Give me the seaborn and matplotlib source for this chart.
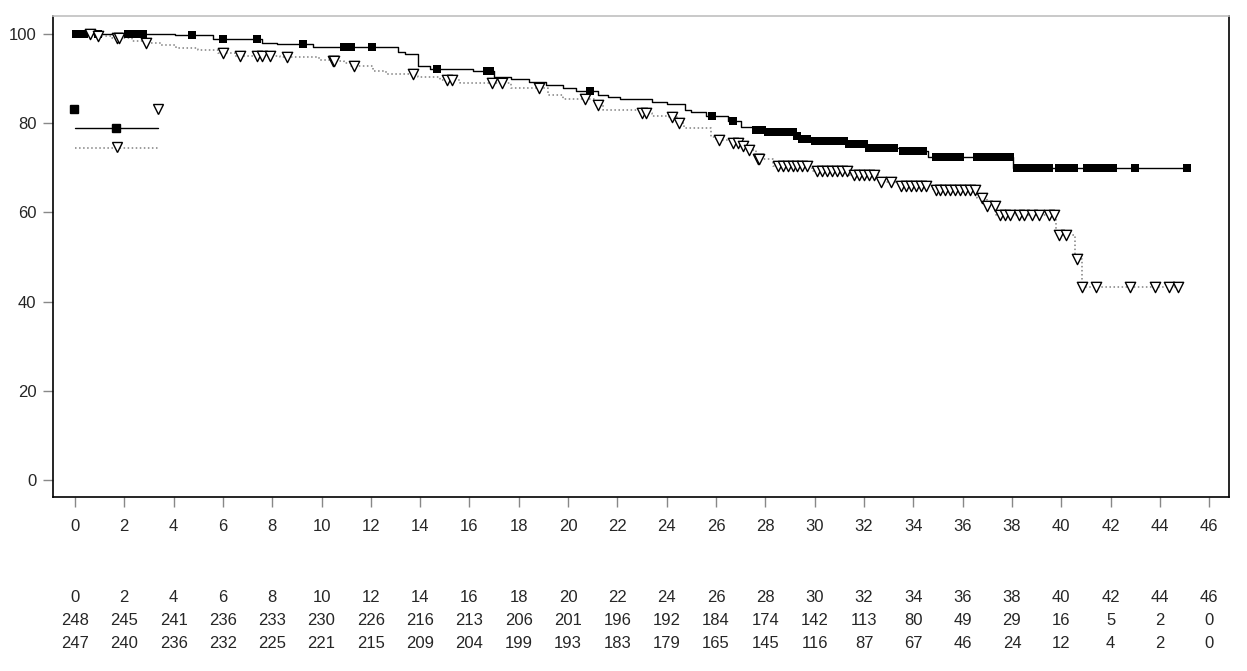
import numpy as np
import pandas as pd
import matplotlib
matplotlib.use("Agg")
import matplotlib.pyplot as plt
import seaborn as sns

# survival curve 1 (solid, squares): step times (months) and survival (%)
t1 = [0, 4.05, 5.6, 7.6, 8.2, 9.65, 13.1, 13.4, 13.9, 14.4, 16.15, 17.0, 17.7, 18.4,
      19.1, 19.8, 20.3, 21.2, 21.6, 22.1, 23.4, 24.0, 24.75, 25.0, 25.6, 26.5, 27.0,
      27.5, 28.0, 29.2, 29.5, 29.9, 31.4, 32.1, 33.5, 34.6, 38.05, 45.1]
s1 = [100, 99.7, 98.9, 97.9, 97.7, 97.1, 96.0, 95.4, 92.9, 92.1, 91.6, 90.3, 89.8, 89.1,
      88.6, 87.8, 87.3, 86.3, 85.8, 85.4, 84.8, 84.2, 83.0, 82.4, 81.5, 80.5, 79.2,
      78.5, 77.9, 77.0, 76.5, 75.9, 75.3, 74.4, 73.8, 72.5, 70.0, 70.0]

# survival curve 2 (dotted, triangles)
t2 = [0, 0.9, 1.5, 2.3, 2.8, 3.5, 4.1, 5.0, 5.8, 6.5, 8.3, 9.9, 10.4, 10.9, 11.2,
      12.1, 12.6, 13.9, 14.8, 15.6, 17.7, 19.2, 19.8, 21.1, 21.4, 22.9, 23.4, 24.1,
      24.4, 24.7, 25.8, 26.0, 26.6, 27.0, 27.3, 27.6, 28.3, 29.9, 31.4, 32.6, 33.4,
      34.8, 36.6, 37.0, 37.35, 39.8, 40.55, 40.85, 44.75]
s2 = [100, 99.6, 99.0, 98.5, 98.0, 97.5, 96.9, 96.3, 95.7, 95.1, 94.7, 94.2, 93.9, 93.5, 92.7,
      91.6, 91.0, 90.4, 89.7, 89.0, 87.9, 86.3, 85.5, 84.0, 83.0, 82.2, 81.7, 81.3,
      80.0, 78.8, 76.8, 76.2, 75.5, 74.8, 74.0, 72.0, 70.4, 69.3, 68.4, 66.9, 65.8,
      64.9, 63.2, 61.5, 59.4, 55.0, 49.6, 43.3, 43.3]

# censoring times
cens1 = [0.05, 0.15, 0.25, 0.35, 0.95, 2.15, 2.3, 2.45, 2.6, 2.75, 4.75, 6.0, 7.4, 9.25,
         10.9, 11.05, 11.2, 12.05, 14.7, 16.7, 16.85, 20.9, 25.85, 26.7, 27.6, 27.85,
         28.1, 28.3, 28.5, 28.7, 28.9, 29.1, 29.3, 29.5, 29.7, 30.0, 30.2, 30.4, 30.6,
         30.8, 31.0, 31.2, 31.4, 31.6, 31.8, 32.0, 32.2, 32.4, 32.6, 32.8, 33.0, 33.2,
         33.6, 33.8, 34.0, 34.2, 34.4, 34.9, 35.1, 35.3, 35.5, 35.7, 35.9, 36.6, 36.8,
         37.0, 37.2, 37.5, 37.7, 37.9, 38.2, 38.4, 38.6, 38.8, 39.0, 39.2, 39.5, 39.9,
         40.1, 40.3, 40.5, 41.05, 41.2, 41.4, 41.6, 41.8, 42.1, 43.0, 45.1]
cens2 = [0.6, 0.93, 1.7, 1.8, 2.9, 6.0, 6.7, 7.4, 7.6, 7.9, 8.6, 10.45, 10.5, 11.3, 13.7,
         15.1, 15.3, 16.9, 17.3, 18.8, 20.7, 21.2, 23.0, 23.15, 24.2, 24.5, 26.1, 26.7,
         26.9, 27.1, 27.35, 27.7, 27.75, 28.5, 28.7, 28.9, 29.1, 29.3, 29.5, 29.7, 30.1,
         30.3, 30.5, 30.7, 30.9, 31.1, 31.3, 31.6, 31.8, 32.0, 32.2, 32.4, 32.7, 33.1,
         33.5, 33.7, 33.9, 34.1, 34.3, 34.5, 34.9, 35.1, 35.3, 35.5, 35.7, 35.9, 36.1,
         36.3, 36.5, 36.8, 37.0, 37.3, 37.5, 37.7, 37.9, 38.3, 38.5, 38.8, 39.1, 39.5,
         39.7, 39.9, 40.2, 40.65, 40.85, 41.4, 42.8, 43.8, 44.35, 44.75]

# numbers at risk
risk_times = list(range(0, 47, 2))
risk1 = [248, 245, 241, 236, 233, 230, 226, 216, 213, 206, 201, 196,
         192, 184, 174, 142, 113, 80, 49, 29, 16, 5, 2, 0]
risk2 = [247, 240, 236, 232, 225, 221, 215, 209, 204, 199, 193, 183,
         179, 165, 145, 116, 87, 67, 46, 24, 12, 4, 2, 0]


def surv_at(t, s, x):
    idx = np.searchsorted(t, x, side="right") - 1
    return np.asarray(s)[idx]


sns.set_style("white")
plt.rcParams["font.family"] = ["Liberation Sans", "DejaVu Sans"]
plt.rcParams["font.size"] = 12

fig = plt.figure(figsize=(12.47, 6.71), dpi=100)
ax = fig.add_axes([53 / 1247, 174 / 671, 1176 / 1247, 481 / 671])

sns.lineplot(x=t1, y=s1, drawstyle="steps-post", color="black", lw=1,
             estimator=None, sort=False, ax=ax)
sns.lineplot(x=t2, y=s2, drawstyle="steps-post", color="#808080", lw=1.1,
             linestyle=":", estimator=None, sort=False, ax=ax)

sns.scatterplot(x=cens1, y=surv_at(t1, s1, cens1), marker="s", s=28,
                color="black", edgecolor="black", linewidth=0, zorder=3, ax=ax)
sns.scatterplot(x=cens2, y=surv_at(t2, s2, cens2), marker="v", s=55,
                facecolor="white", edgecolor="black", linewidth=1, zorder=4, ax=ax)

# legend drawn as in the original (symbols only)
tr = ax.transAxes
ax.plot([0.0179], [0.807], "s", ms=5.5, color="black", transform=tr)
ax.plot([0.0893], [0.807], "v", ms=7.5, mfc="white", mec="black", mew=1, transform=tr)
ax.plot([0.0187, 0.0893], [0.767, 0.767], "-", color="black", lw=1, transform=tr)
ax.plot([0.0536], [0.767], "s", ms=5.5, color="black", transform=tr)
ax.plot([0.0187, 0.0893], [0.726, 0.726], ":", color="#808080", lw=1.1, transform=tr)
ax.plot([0.0544], [0.728], "v", ms=7.5, mfc="white", mec="black", mew=1, transform=tr)

ax.set_xlim(-0.89, 46.8)
ax.set_ylim(-3.8, 104.0)
ax.set_xticks(risk_times)
ax.set_yticks([0, 20, 40, 60, 80, 100])
ax.set_xlabel("")
ax.set_ylabel("")
ax.tick_params(axis="both", direction="out", length=7, width=1, color="#888888",
               labelsize=12, bottom=True, left=True)
ax.tick_params(axis="x", pad=9)
ax.tick_params(axis="y", pad=5)

for side in ["left", "bottom", "right"]:
    ax.spines[side].set_color("black")
    ax.spines[side].set_linewidth(1.2)
ax.spines["top"].set_color("#c0c0c0")
ax.spines["top"].set_linewidth(1.2)

# risk table under the axis
bt = matplotlib.transforms.blended_transform_factory(ax.transData, ax.transAxes)
for row_y, row in zip([-0.208, -0.256, -0.304], [risk_times, risk1, risk2]):
    for tx, val in zip(risk_times, row):
        ax.text(tx, row_y, str(val), transform=bt, ha="center", va="center",
                fontsize=12, clip_on=False)

fig.savefig("out.png", dpi=100)
